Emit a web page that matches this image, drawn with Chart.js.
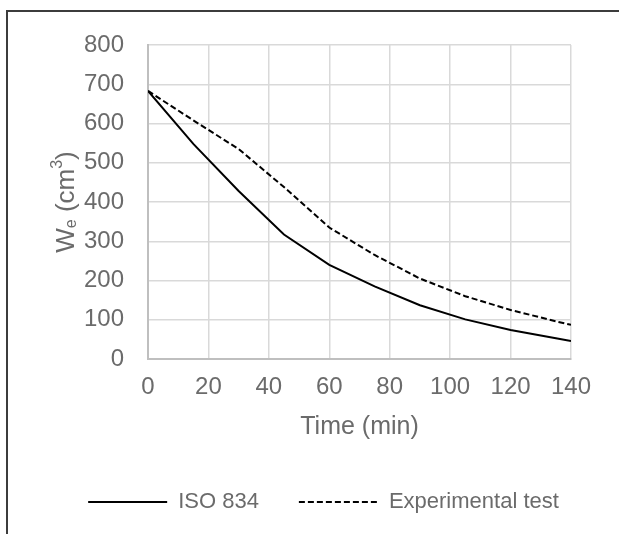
<!DOCTYPE html>
<html>
<head>
<meta charset="utf-8">
<script src="https://cdn.jsdelivr.net/npm/chart.js@4.4.1/dist/chart.umd.min.js"></script>
<style>
  html, body { margin: 0; padding: 0; background: #fff; overflow: hidden; }
  #wrap { position: relative; width: 619px; height: 534px; }
  #frame { position: absolute; left: 6px; top: 10px; width: 800px; height: 800px;
           border: 2px solid #3c3c3c; pointer-events: none; }
  canvas { position: absolute; left: 0; top: 0; }
</style>
</head>
<body>
<div id="wrap">
  <canvas id="chart" width="619" height="534"></canvas>
  <div id="frame"></div>
</div>
<script>
// values
const timeMin = [0, 15, 30, 45, 60, 75, 90, 105, 120, 135, 140];
const iso834 = [683, 548, 428, 317, 240, 185, 137, 101, 74, 53, 46];
const experimental = [683, 608, 535, 438, 335, 265, 205, 160, 125, 96, 87];
const xTicks = [0, 20, 40, 60, 80, 100, 120, 140];
const yTicks = [0, 100, 200, 300, 400, 500, 600, 700, 800];

const textGray = '#6b6b6b';
const fontFam = "'Liberation Sans', Arial, sans-serif";
Chart.defaults.font.family = fontFam;
Chart.defaults.color = textGray;

const toPoints = (ys) => timeMin.map((t, i) => ({x: t, y: ys[i]}));

// y axis title with subscript e and superscript 3
const yTitle = {
    id: 'yTitle',
    afterDraw(chart) {
        const ctx = chart.ctx;
        const parts = [
            {t: 'W', size: 26, dy: 0},
            {t: 'e', size: 16, dy: 1.5},
            {t: ' (cm', size: 26, dy: 0},
            {t: '3', size: 16, dy: -12},
            {t: ')', size: 26, dy: 0}
        ];
        ctx.save();
        let total = 0;
        parts.forEach(p => {
            ctx.font = p.size + 'px ' + fontFam;
            p.w = ctx.measureText(p.t).width;
            total += p.w;
        });
        const midY = (chart.chartArea.top + chart.chartArea.bottom) / 2;
        ctx.translate(74, midY);
        ctx.rotate(-Math.PI / 2);
        ctx.fillStyle = textGray;
        ctx.textBaseline = 'alphabetic';
        ctx.textAlign = 'left';
        let x = -total / 2;
        parts.forEach(p => {
            ctx.font = p.size + 'px ' + fontFam;
            ctx.fillText(p.t, x, p.dy);
            x += p.w;
        });
        ctx.restore();
    }
};

const ctx = document.getElementById('chart').getContext('2d');
const chart = new Chart(ctx, {
    type: 'line',
    data: {
        datasets: [{
            label: 'ISO 834',
            data: toPoints(iso834),
            borderColor: '#000',
            borderWidth: 2,
            pointRadius: 0,
            tension: 0
        }, {
            label: 'Experimental test',
            data: toPoints(experimental),
            borderColor: '#000',
            borderWidth: 2,
            borderDash: [6, 3],
            pointRadius: 0,
            tension: 0
        }]
    },
    options: {
        responsive: false,
        animation: false,
        devicePixelRatio: 1,
        layout: {
            padding: {left: 28, right: 0, top: 45, bottom: 11}
        },
        scales: {
            x: {
                type: 'linear',
                min: 0,
                max: 140,
                afterBuildTicks: (s) => { s.ticks = xTicks.map(v => ({value: v})); },
                afterFit: (s) => { s.height = 92; },
                grid: {color: '#d9d9d9', lineWidth: 1.5, drawTicks: false},
                border: {color: '#bfbfbf', width: 2},
                ticks: {padding: 14, font: {size: 24}, color: textGray},
                title: {
                    display: true,
                    text: 'Time (min)',
                    font: {size: 25},
                    color: textGray,
                    padding: {top: 10, bottom: 9}
                }
            },
            y: {
                min: 0,
                max: 800,
                afterBuildTicks: (s) => { s.ticks = yTicks.map(v => ({value: v})); },
                afterFit: (s) => { s.width = 120; },
                grid: {color: '#d9d9d9', lineWidth: 1.5, drawTicks: false},
                border: {color: '#bfbfbf', width: 2},
                ticks: {padding: 24, font: {size: 24}, color: textGray}
            },
            yRight: {
                position: 'right',
                display: true,
                grid: {display: false},
                border: {display: false},
                ticks: {display: false},
                afterFit: (s) => { s.width = 48; }
            }
        },
        plugins: {
            legend: {
                position: 'bottom',
                labels: {
                    usePointStyle: true,
                    pointStyle: 'line',
                    pointStyleWidth: 79,
                    padding: 40,
                    font: {size: 22},
                    color: textGray,
                    generateLabels: (chart) => {
                        const items = Chart.defaults.plugins.legend.labels.generateLabels(chart);
                        items.forEach(it => {
                            const ds = chart.data.datasets[it.datasetIndex];
                            it.lineDash = ds.borderDash || [];
                            it.lineWidth = ds.borderWidth;
                            it.strokeStyle = ds.borderColor;
                        });
                        return items;
                    }
                }
            },
            tooltip: {enabled: false}
        }
    },
    plugins: [yTitle]
});
</script>
</body>
</html>
